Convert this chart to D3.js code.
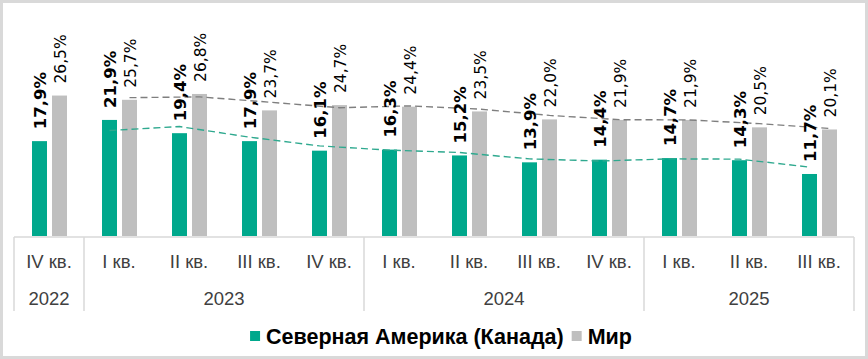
<!DOCTYPE html>
<html><head><meta charset="utf-8">
<script src="https://cdn.jsdelivr.net/npm/d3@7"></script>
<style>
html,body{margin:0;padding:0;background:#fff;}
svg{display:block;}
</style></head>
<body>
<svg id="chart" width="868" height="359"></svg>
<script>
const quarters = ["IV кв.","I кв.","II кв.","III кв.","IV кв.","I кв.","II кв.","III кв.","IV кв.","I кв.","II кв.","III кв."];
const years = [
  {label:"2022", from:0, to:0},
  {label:"2023", from:1, to:4},
  {label:"2024", from:5, to:8},
  {label:"2025", from:9, to:11}
];
const seriesNames = ["Северная Америка (Канада)","Мир"];
const northAmerica = [17.9,21.9,19.4,17.9,16.1,16.3,15.2,13.9,14.4,14.7,14.3,11.7];
const world = [26.5,25.7,26.8,23.7,24.7,24.4,23.5,22.0,21.9,21.9,20.5,20.1];
const colors = ["#00A88C","#BFBFBF"];
const trendColors = ["#2FA98F","#7F7F7F"];

const svg = d3.select("#chart");
const W = 868, H = 359;

svg.append("rect").attr("x",1.5).attr("y",1.5).attr("width",W-3).attr("height",H-3)
  .attr("fill","#fff").attr("stroke","#d9d9d9").attr("stroke-width",3);

const idx = d3.range(quarters.length);
const x = d3.scaleBand().domain(idx).range([14,854]).paddingInner(0).paddingOuter(0);
const x1 = d3.scaleBand().domain([0,1]).range([18,53]).paddingInner(0.25).paddingOuter(0);
const y = d3.scaleLinear().domain([0,40]).range([236,24]);

const series = [northAmerica, world];
const fmt = v => d3.format(".1f")(v).replace(".", ",") + "%";

// bars
series.forEach((vals, s) => {
  svg.append("g").selectAll("rect").data(vals).join("rect")
    .attr("x",(d,i)=>x(i)+x1(s))
    .attr("width",x1.bandwidth())
    .attr("y",d=>y(d))
    .attr("height",d=>y(0)-y(d))
    .attr("fill",colors[s]);
});

// moving-average (period 2) trendlines
series.forEach((vals, s) => {
  const pts = idx.slice(1).map(i => [x(i)+x1(s)+x1.bandwidth()/2, y(d3.mean([vals[i-1], vals[i]]))]);
  svg.append("path").attr("d", d3.line()(pts))
    .attr("fill","none").attr("stroke",trendColors[s]).attr("stroke-width",1.4)
    .attr("stroke-dasharray","7,4");
});

// data labels
series.forEach((vals, s) => {
  svg.append("g").selectAll("text").data(vals).join("text")
    .attr("transform",(d,i)=>`translate(${x(i)+x1(s)+x1.bandwidth()/2+1},${y(d)-12}) rotate(-90)`)
    .attr("dy","0.36em")
    .attr("text-anchor","start")
    .attr("font-family","DejaVu Sans, sans-serif")
    .attr("font-size", s===0 ? 16.5 : 15.5)
    .attr("font-weight", s===0 ? "bold" : "normal")
    .attr("fill","#000")
    .text(d=>fmt(d));
});

// category axis table
const axisG = svg.append("g").attr("stroke","#d9d9d9").attr("stroke-width",1.5);
axisG.append("line").attr("x1",14).attr("x2",854).attr("y1",237).attr("y2",237);
const divs = [x(0)].concat(years.map(yr => x(yr.to)+x.bandwidth()));
axisG.selectAll("line.div").data(divs).join("line").attr("class","div")
  .attr("x1",d=>d).attr("x2",d=>d).attr("y1",237).attr("y2",311);

svg.append("g").selectAll("text").data(quarters).join("text")
  .attr("x",(d,i)=>x(i)+x.bandwidth()/2)
  .attr("y",268)
  .attr("text-anchor","middle")
  .attr("font-family","Liberation Sans, Arial, sans-serif")
  .attr("font-size",18.5)
  .attr("fill","#404040")
  .text(d=>d);

svg.append("g").selectAll("text").data(years).join("text")
  .attr("x",d=>(x(d.from)+x(d.to)+x.bandwidth())/2)
  .attr("y",305)
  .attr("text-anchor","middle")
  .attr("font-family","Liberation Sans, Arial, sans-serif")
  .attr("font-size",18.5)
  .attr("fill","#404040")
  .text(d=>d.label);

// legend
const leg = svg.append("g");
let cx = 0;
seriesNames.forEach((name, s) => {
  const g = leg.append("g");
  g.append("rect").attr("x",0).attr("y",-13).attr("width",10).attr("height",10).attr("fill",colors[s]);
  const t = g.append("text").attr("x",16).attr("y",0)
    .attr("font-family","Liberation Sans, Arial, sans-serif")
    .attr("font-size",21.5).attr("font-weight","bold").attr("fill","#000").text(name);
  const w = 16 + t.node().getComputedTextLength();
  g.attr("transform",`translate(${cx},0)`);
  cx += w + 8;
});
const total = cx - 8;
leg.attr("transform",`translate(${441 - total/2},344)`);
</script>
</body></html>
